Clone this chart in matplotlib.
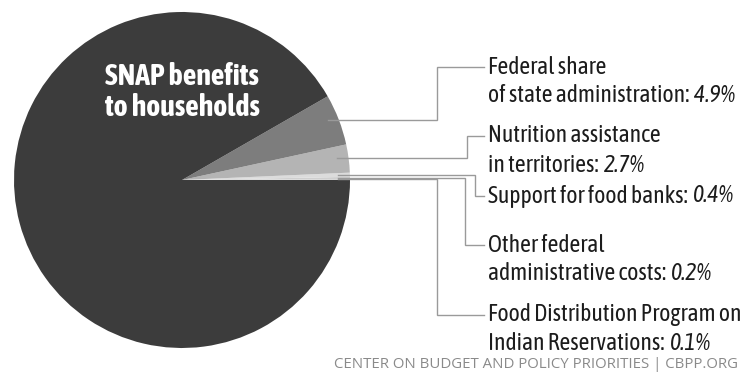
import numpy as np
import matplotlib
matplotlib.use("Agg")
import matplotlib.pyplot as plt

# where the SNAP money goes, percent of spending
heads = ["Food Distribution Program on\nIndian Reservations:",
         "Other federal\nadministrative costs:",
         "Support for food banks:",
         "Nutrition assistance\nin territories:",
         "Federal share\nof state administration:",
         "SNAP benefits\nto households"]
shares = [0.1, 0.2, 0.4, 2.7, 4.9, 91.7]
colors = ["#d8d8d8", "#cfcfcf", "#dcdcdc", "#b4b4b4", "#7d7d7d", "#3c3c3c"]

fam = ["Asap Condensed", "DejaVu Sans"]
fsize = 17
lead = 29  # px between label lines

W, H = 740, 377
fig = plt.figure(figsize=(W / 100, H / 100), dpi=100)
ax = fig.add_axes([0, 0, 1, 1])

cx, cy, R = 182, H - 180, 168
wedges, _ = ax.pie(shares, colors=colors, startangle=0, counterclock=True,
                   center=(cx, cy), radius=R,
                   wedgeprops=dict(linewidth=0))
ax.set_xlim(0, W)
ax.set_ylim(0, H)
ax.set_aspect("equal")
ax.axis("off")

# label layout for the small slices: elbow x, first label line y, in px from top
elbow_x = [437, 465, 475, 467, 437]
label_y = [315, 245, 196, 136, 67]
text_x = 488
line_c = "#9a9a9a"
rend = fig.canvas.get_renderer()

for i in range(5):
    w = wedges[i]
    mid = np.deg2rad((w.theta1 + w.theta2) / 2)
    sx = cx + R * 0.93 * np.cos(mid)
    sy = cy + R * np.sin(mid)
    ty = H - label_y[i]
    ax.plot([sx, elbow_x[i], elbow_x[i], text_x - 4], [sy, sy, ty, ty],
            color=line_c, lw=1.0, solid_joinstyle="miter")
    lines = heads[i].split("\n")
    for k, ln in enumerate(lines):
        t = ax.text(text_x, ty - k * lead, ln, fontsize=fsize, family=fam,
                    color="#1c1c1c", ha="left", va="center")
    # italic percentage after the last line
    wpx = t.get_window_extent(renderer=rend).width
    ax.text(text_x + wpx + 5, ty - (len(lines) - 1) * lead, f"{shares[i]:.1f}%",
            fontsize=fsize, family=fam, style="italic", color="#1c1c1c",
            ha="left", va="center")

ax.text(cx, H - 92, heads[5], fontsize=21.5, family=fam, weight="bold",
        color="white", ha="center", va="center", linespacing=1.05)

ax.text(738, H - 364, "CENTER ON BUDGET AND POLICY PRIORITIES | CBPP.ORG",
        fontsize=10.8, family=["Open Sans", "DejaVu Sans"], color="#8a8a8a",
        ha="right", va="center")

fig.savefig("out.png", dpi=100, facecolor="white")
